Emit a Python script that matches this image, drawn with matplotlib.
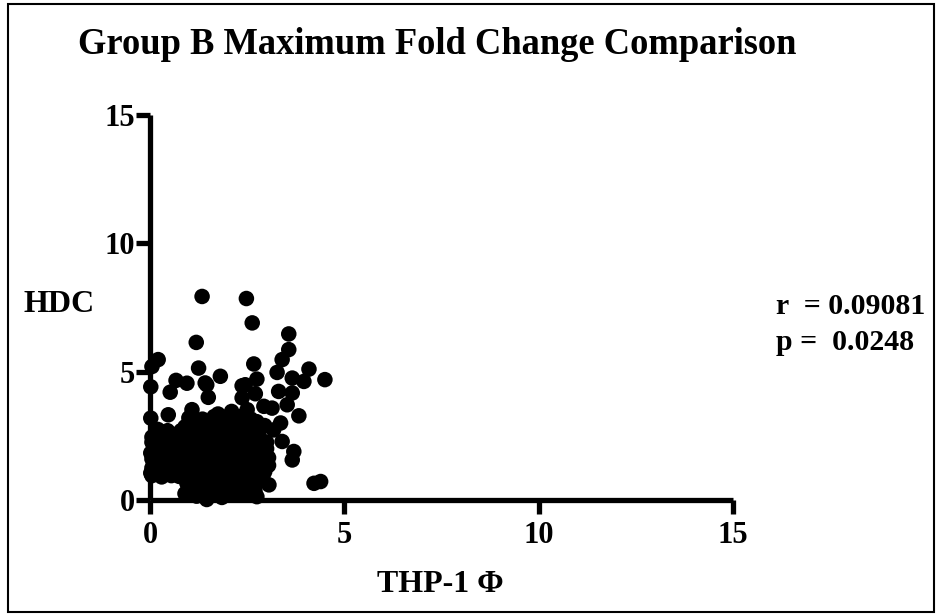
import matplotlib
matplotlib.use("Agg")
import matplotlib.pyplot as plt
from matplotlib.patches import Rectangle

# ---- data ----
outlier_x = [1.34, 2.48, 2.63, 1.19, 3.57, 3.57, 3.40, 0.21, 0.05, 1.25,
             2.67, 3.27, 4.09, 1.81, 0.67, 0.02, 0.95, 1.46, 3.66, 3.96,
             4.50, 2.75, 2.45, 0.52, 1.50, 2.37, 2.37, 2.71, 3.31, 3.66,
             3.53, 3.83, 2.93, 3.14, 1.08, 0.47, 0.02, 1.75, 2.10, 2.50,
             3.36, 3.18, 3.40, 3.70, 3.66, 3.06, 4.22, 4.39, 2.75, 1.46,
             0.02, 0.02, 1.42]
outlier_y = [7.93, 7.85, 6.90, 6.14, 6.47, 5.86, 5.47, 5.47, 5.20, 5.14,
             5.30, 4.97, 5.10, 4.82, 4.66, 4.41, 4.55, 4.49, 4.75, 4.62,
             4.69, 4.71, 4.49, 4.20, 4.00, 4.45, 3.98, 4.14, 4.23, 4.17,
             3.71, 3.28, 3.65, 3.58, 3.52, 3.32, 3.19, 3.35, 3.45, 3.52,
             3.00, 2.73, 2.28, 1.89, 1.56, 0.59, 0.65, 0.72, 0.13, 0.02,
             1.83, 1.05, 4.56]

cluster_x = [0.05, 0.30, 0.55, 0.75, 0.15, 0.45, 0.70, 0.05, 0.30, 0.60,
             0.15, 0.45, 0.75, 0.05, 0.30, 0.60, 0.20, 0.80,
             0.90, 1.20, 1.55, 1.85, 2.15, 2.45, 2.70, 1.05,
             0.95, 1.25, 1.60, 1.90, 2.20, 2.50, 2.85,
             0.85, 1.15, 1.45, 1.75, 2.05, 2.35, 2.65, 2.95,
             1.00, 1.30, 1.60, 1.95, 2.25, 2.55, 2.85, 3.05,
             0.90, 1.20, 1.50, 1.80, 2.10, 2.40, 2.70, 3.00,
             1.05, 1.35, 1.65, 1.95, 2.25, 2.55, 2.85,
             0.90, 1.25, 1.50, 1.80, 2.10, 2.40, 2.70, 2.95,
             1.00, 1.35, 1.65, 1.95, 2.30, 2.60]
cluster_y = [0.95, 0.90, 0.95, 0.92, 1.35, 1.40, 1.30, 1.60, 1.75, 1.70,
             2.10, 2.05, 2.15, 2.45, 2.50, 2.55, 2.75, 2.70,
             0.25, 0.15, 0.20, 0.10, 0.25, 0.20, 0.35, 0.40,
             0.65, 0.60, 0.70, 0.55, 0.65, 0.60, 0.75,
             1.10, 1.00, 1.05, 1.15, 1.00, 1.10, 1.05, 1.10,
             1.55, 1.45, 1.50, 1.60, 1.45, 1.55, 1.50, 1.65,
             2.00, 1.95, 2.05, 1.90, 2.00, 1.95, 2.05, 2.00,
             2.40, 2.45, 2.35, 2.50, 2.40, 2.45, 2.35,
             2.85, 2.95, 2.80, 2.95, 2.85, 2.90, 2.80, 2.90,
             3.20, 3.15, 3.25, 3.20, 3.25, 3.15]

fill_x = [0.18, 0.60, 0.30, 0.75, 0.15, 0.50, 0.30, 0.70, 0.45, 0.05, 0.05, 0.82,
          1.35, 1.70, 2.00, 2.30, 2.60,
          1.05, 1.40, 1.75, 2.05, 2.35, 2.65, 2.90,
          1.00, 1.30, 1.60, 1.90, 2.20, 2.50, 2.80, 3.05,
          0.85, 1.15, 1.45, 1.75, 2.05, 2.35, 2.65, 2.95,
          0.95, 1.25, 1.50, 1.80, 2.10, 2.40, 2.70, 3.00,
          1.00, 1.30, 1.60, 1.90, 2.20, 2.50, 2.80,
          1.15, 1.50, 1.80, 2.10, 2.45, 2.75]
fill_y = [1.12, 1.12, 1.55, 1.50, 1.90, 1.90, 2.30, 2.35, 2.70, 2.25, 1.25, 1.85,
          0.40, 0.45, 0.35, 0.45, 0.50,
          0.85, 0.85, 0.90, 0.80, 0.85, 0.80, 0.95,
          1.30, 1.25, 1.30, 1.35, 1.25, 1.30, 1.30, 1.35,
          1.75, 1.75, 1.75, 1.70, 1.80, 1.75, 1.80, 1.80,
          2.20, 2.20, 2.25, 2.15, 2.20, 2.20, 2.25, 2.25,
          2.65, 2.70, 2.60, 2.70, 2.65, 2.70, 2.60,
          3.05, 3.05, 3.10, 3.05, 3.05, 3.05]

x_ticks = [0, 5, 10, 15]
y_ticks = [0, 5, 10, 15]
title = "Group B Maximum Fold Change Comparison"
xlabel = "THP-1 \u03a6"
ylabel = "HDC"
stats_r = "r  = 0.09081"
stats_p = "p =  0.0248"

# ---- figure ----
plt.rcParams['font.family'] = ['Liberation Serif', 'DejaVu Serif']
plt.rcParams['font.weight'] = 'bold'

W, H = 936, 614
fig = plt.figure(figsize=(W / 100, H / 100), dpi=100)
ax = fig.add_axes([150 / W, 1 - 500 / H, 583 / W, 385 / H])

xs = outlier_x + cluster_x + fill_x
ys = outlier_y + cluster_y + fill_y
ax.scatter(xs, ys, s=125, color='black', edgecolors='none', zorder=5, clip_on=False)

ax.set_xlim(0, 15)
ax.set_ylim(0, 15)
ax.set_xticks(x_ticks)
ax.set_yticks(y_ticks)
ax.set_xticklabels([str(t) for t in x_ticks], fontsize=22, fontweight='bold')
ax.set_yticklabels([str(t) for t in y_ticks], fontsize=22, fontweight='bold')
for s in ['top', 'right']:
    ax.spines[s].set_visible(False)
for s in ['left', 'bottom']:
    ax.spines[s].set_linewidth(3.8)
    ax.spines[s].set_capstyle('butt')
ax.tick_params(axis='both', direction='out', length=10, width=3.8, color='black')
ax.tick_params(axis='x', pad=5)
ax.tick_params(axis='y', pad=1)

fig.text(437 / W, 1 - 45 / H, title, fontsize=26.3, fontweight='bold',
         ha='center', va='center')
fig.text(440 / W, 1 - 585 / H, xlabel, fontsize=23, fontweight='bold',
         ha='center', va='center')
fig.text(24 / W, 1 - 305 / H, ylabel, fontsize=23, fontweight='bold',
         ha='left', va='center')
fig.text(776 / W, 1 - 306 / H, stats_r, fontsize=21.5, fontweight='bold',
         ha='left', va='center')
fig.text(776 / W, 1 - 342 / H, stats_p, fontsize=21.5, fontweight='bold',
         ha='left', va='center')

fig.patches.append(Rectangle((8 / W, 2 / H), 926 / W, 608 / H,
                             transform=fig.transFigure, fill=False,
                             edgecolor='black', linewidth=1.5))

fig.savefig("out.png", dpi=100)
